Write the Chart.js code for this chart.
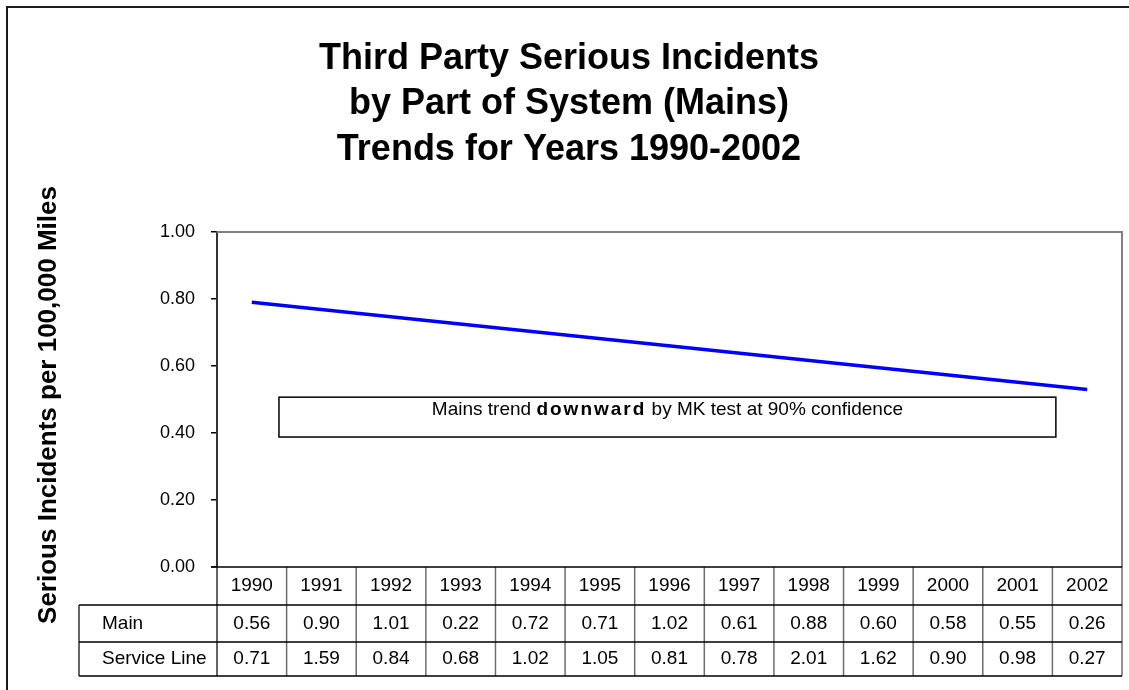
<!DOCTYPE html>
<html>
<head>
<meta charset="utf-8">
<script src="https://cdn.jsdelivr.net/npm/chart.js@4.4.1/dist/chart.umd.min.js"></script>
<style>
  html, body { margin: 0; padding: 0; background: #ffffff; }
  canvas { display: block; }
</style>
</head>
<body>
<canvas id="chart" width="1129" height="690"></canvas>
<script>
// Years shown along the category axis and in the data table header
const years = ['1990', '1991', '1992', '1993', '1994', '1995', '1996',
               '1997', '1998', '1999', '2000', '2001', '2002'];

// Serious incidents per 100,000 miles, by part of system
const mainValues = [0.56, 0.90, 1.01, 0.22, 0.72, 0.71, 1.02, 0.61, 0.88, 0.60, 0.58, 0.55, 0.26];
const serviceLineValues = [0.71, 1.59, 0.84, 0.68, 1.02, 1.05, 0.81, 0.78, 2.01, 1.62, 0.90, 0.98, 0.27];

// Fitted trend line for mains: end points only
const trendYears = ['1990', '2002'];
const trendValues = [0.79, 0.53];

// Table rows
const rowLabels = ['Main', 'Service Line'];
const rowValues = [mainValues, serviceLineValues];

// Title lines and axis text
const titleLines = ['Third Party Serious Incidents', 'by Part of System (Mains)', 'Trends for Years 1990-2002'];
const yAxisTitle = 'Serious Incidents per 100,000 Miles';
const noteParts = [
  { text: 'Mains trend ', bold: false },
  { text: 'downward', bold: true },
  { text: ' by MK test at 90% confidence', bold: false }
];

const FONT = '"Liberation Sans", Arial, Helvetica, sans-serif';

// Note box, placed in axis units (category index / value)
const noteBox = { xFrom: 0.39, xTo: 11.55, yTop: 0.507, yBottom: 0.388 };

const decorPlugin = {
  id: 'decor',
  beforeDraw(chart) {
    const ctx = chart.ctx;
    ctx.save();
    ctx.fillStyle = '#ffffff';
    ctx.fillRect(0, 0, chart.width, chart.height);
    ctx.restore();
  },
  afterDraw(chart) {
    const ctx = chart.ctx;
    const area = chart.chartArea;
    const xs = chart.scales.x;
    const ys = chart.scales.y;
    ctx.save();

    // outer frame
    ctx.strokeStyle = '#1a1a1a';
    ctx.lineWidth = 2;
    ctx.beginPath();
    ctx.moveTo(7, chart.height + 2);
    ctx.lineTo(7, 7);
    ctx.lineTo(chart.width + 2, 7);
    ctx.stroke();

    // title
    ctx.fillStyle = '#000';
    ctx.font = 'bold 36px ' + FONT;
    ctx.textAlign = 'center';
    ctx.textBaseline = 'middle';
    const titleY = [59, 104, 150];
    titleLines.forEach((t, i) => ctx.fillText(t, 569, titleY[i]));

    // y axis title
    ctx.save();
    ctx.translate(49, 405);
    ctx.rotate(-Math.PI / 2);
    ctx.font = 'bold 26px ' + FONT;
    ctx.textAlign = 'center';
    ctx.textBaseline = 'middle';
    ctx.fillText(yAxisTitle, 0, 0);
    ctx.restore();

    // plot frame: top and right in grey
    ctx.strokeStyle = '#808080';
    ctx.lineWidth = 2;
    ctx.beginPath();
    ctx.moveTo(area.left, area.top);
    ctx.lineTo(area.right, area.top);
    ctx.lineTo(area.right, area.bottom);
    ctx.stroke();

    // note box
    const bx1 = xs.getPixelForValue(noteBox.xFrom);
    const bx2 = xs.getPixelForValue(noteBox.xTo);
    const by1 = ys.getPixelForValue(noteBox.yTop);
    const by2 = ys.getPixelForValue(noteBox.yBottom);
    ctx.fillStyle = '#ffffff';
    ctx.fillRect(bx1, by1, bx2 - bx1, by2 - by1);
    ctx.strokeStyle = '#000';
    ctx.lineWidth = 1.5;
    ctx.strokeRect(bx1, by1, bx2 - bx1, by2 - by1);
    ctx.textBaseline = 'middle';
    ctx.textAlign = 'left';
    const noteSize = 19;
    const setNoteFont = p => {
      ctx.font = (p.bold ? 'bold ' : '') + noteSize + 'px ' + FONT;
      ctx.letterSpacing = p.bold ? '2px' : '0px';
    };
    let total = 0;
    noteParts.forEach(p => {
      setNoteFont(p);
      p.w = ctx.measureText(p.text).width;
      total += p.w;
    });
    let tx = (bx1 + bx2) / 2 - total / 2;
    const ty = by1 + 13;
    ctx.fillStyle = '#000';
    noteParts.forEach(p => {
      setNoteFont(p);
      ctx.fillText(p.text, tx, ty);
      tx += p.w;
    });
    ctx.letterSpacing = '0px';

    // data table under the plot
    const rowH = [38, 37, 34];
    const top = area.bottom;
    const r1 = top + rowH[0];
    const r2 = r1 + rowH[1];
    const r3 = r2 + rowH[2];
    const labelLeft = 79;
    const n = years.length;
    const bounds = [area.left];
    for (let i = 1; i < n; i++) {
      bounds.push((xs.getPixelForValue(i - 1) + xs.getPixelForValue(i)) / 2);
    }
    bounds.push(area.right);

    // vertical rules
    ctx.strokeStyle = '#6e6e6e';
    ctx.lineWidth = 1.5;
    ctx.beginPath();
    for (let i = 1; i <= n; i++) {
      ctx.moveTo(bounds[i], top);
      ctx.lineTo(bounds[i], r3);
    }
    ctx.stroke();
    ctx.strokeStyle = '#333';
    ctx.beginPath();
    ctx.moveTo(area.left, top);
    ctx.lineTo(area.left, r3);
    ctx.moveTo(labelLeft, r1);
    ctx.lineTo(labelLeft, r3);
    ctx.stroke();

    // horizontal rules
    ctx.strokeStyle = '#000';
    ctx.lineWidth = 1.5;
    ctx.beginPath();
    ctx.moveTo(area.left - 6, top);
    ctx.lineTo(area.right, top);
    [r1, r2, r3].forEach(y => {
      ctx.moveTo(labelLeft, y);
      ctx.lineTo(area.right, y);
    });
    ctx.stroke();

    // table text
    ctx.fillStyle = '#000';
    ctx.font = '19px ' + FONT;
    ctx.textBaseline = 'middle';
    ctx.textAlign = 'center';
    const centers = [(top + r1) / 2, (r1 + r2) / 2, (r2 + r3) / 2];
    years.forEach((y, i) => {
      const cx = xs.getPixelForValue(i);
      ctx.fillText(y, cx, centers[0]);
      ctx.fillText(rowValues[0][i].toFixed(2), cx, centers[1]);
      ctx.fillText(rowValues[1][i].toFixed(2), cx, centers[2]);
    });
    ctx.textAlign = 'left';
    rowLabels.forEach((l, i) => ctx.fillText(l, 102, centers[i + 1]));

    ctx.restore();
  }
};

new Chart(document.getElementById('chart'), {
  type: 'line',
  data: {
    labels: years,
    datasets: [{
      label: 'Mains trend',
      data: trendYears.map((y, i) => ({ x: y, y: trendValues[i] })),
      borderColor: '#0000ff',
      borderWidth: 3.5,
      pointRadius: 0,
      tension: 0,
      fill: false
    }]
  },
  options: {
    responsive: false,
    devicePixelRatio: 1,
    animation: false,
    layout: { padding: { top: 232, left: 0, right: 7, bottom: 123 } },
    plugins: {
      legend: { display: false },
      title: { display: false },
      tooltip: { enabled: false }
    },
    scales: {
      x: {
        type: 'category',
        offset: true,
        display: false,
        grid: { display: false }
      },
      y: {
        min: 0,
        max: 1,
        afterFit(scale) { scale.width = 217; },
        ticks: {
          stepSize: 0.2,
          padding: 16,
          color: '#000',
          font: { family: FONT, size: 18 },
          callback: v => Number(v).toFixed(2)
        },
        grid: {
          drawOnChartArea: false,
          drawTicks: true,
          tickLength: 6,
          color: '#000',
          lineWidth: 1.5
        },
        border: { display: true, color: '#333', width: 2 }
      }
    }
  },
  plugins: [decorPlugin]
});
</script>
</body>
</html>
